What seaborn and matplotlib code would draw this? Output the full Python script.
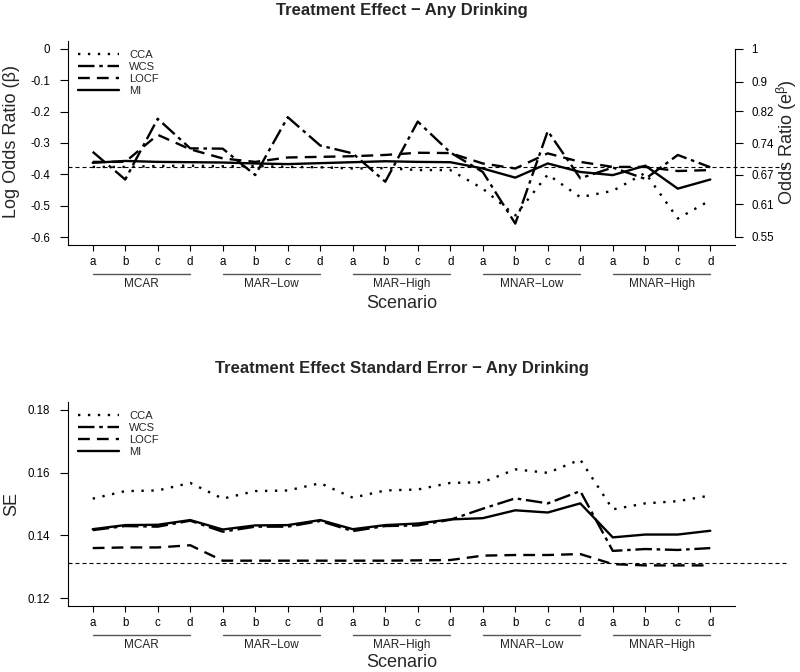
import numpy as np
import pandas as pd
import matplotlib
matplotlib.use('Agg')
import matplotlib.pyplot as plt
from matplotlib.lines import Line2D
import seaborn as sns

groups = ['MCAR', 'MAR−Low', 'MAR−High', 'MNAR−Low', 'MNAR−High']
subs = ['a', 'b', 'c', 'd']
methods = ['CCA', 'WCS', 'LOCF', 'MI']

# log odds ratio, 20 scenarios (5 groups x a-d)
lor_cca = [-0.376, -0.376, -0.373, -0.372, -0.374, -0.373, -0.376, -0.377, -0.381, -0.380,
           -0.386, -0.386, -0.445, -0.530, -0.400, -0.472, -0.452, -0.395, -0.540, -0.482]
lor_wcs = [-0.328, -0.416, -0.223, -0.317, -0.318, -0.402, -0.218, -0.308, -0.333, -0.423,
           -0.232, -0.330, -0.392, -0.556, -0.262, -0.412, -0.378, -0.414, -0.338, -0.377]
lor_locf = [-0.360, -0.360, -0.274, -0.320, -0.349, -0.360, -0.346, -0.344, -0.342, -0.338,
            -0.331, -0.332, -0.365, -0.381, -0.333, -0.360, -0.376, -0.376, -0.389, -0.386]
lor_mi = [-0.363, -0.357, -0.360, -0.361, -0.362, -0.365, -0.367, -0.364, -0.361, -0.358,
          -0.360, -0.361, -0.381, -0.410, -0.365, -0.392, -0.402, -0.372, -0.445, -0.416]
lor_true = -0.376

# standard errors
se_cca = [0.1517, 0.1541, 0.1543, 0.1567, 0.1517, 0.1541, 0.1543, 0.1566, 0.1520, 0.1543,
          0.1546, 0.1567, 0.1569, 0.1610, 0.1599, 0.1641, 0.1483, 0.1502, 0.1509, 0.1527]
se_wcs = [0.1417, 0.1430, 0.1428, 0.1447, 0.1412, 0.1428, 0.1428, 0.1446, 0.1414, 0.1430,
          0.1432, 0.1450, 0.1485, 0.1518, 0.1502, 0.1541, 0.1351, 0.1357, 0.1354, 0.1360]
se_locf = [0.1360, 0.1362, 0.1362, 0.1369, 0.1320, 0.1320, 0.1320, 0.1320, 0.1320, 0.1320,
           0.1321, 0.1322, 0.1336, 0.1338, 0.1338, 0.1341, 0.1309, 0.1305, 0.1305, 0.1305]
se_mi = [0.1420, 0.1433, 0.1434, 0.1449, 0.1419, 0.1432, 0.1433, 0.1449, 0.1420, 0.1433,
         0.1438, 0.1451, 0.1455, 0.1480, 0.1473, 0.1502, 0.1394, 0.1403, 0.1403, 0.1415]
se_true = 0.1313

lor_ticks = [0, -0.1, -0.2, -0.3, -0.4, -0.5, -0.6]
or_ticks = [1, 0.9, 0.82, 0.74, 0.67, 0.61, 0.55]
se_ticks = [0.12, 0.14, 0.16, 0.18]

sns.set_theme(style='ticks')
plt.rcParams['font.family'] = ['Liberation Sans', 'DejaVu Sans']
plt.rcParams['mathtext.fontset'] = 'custom'
plt.rcParams['mathtext.rm'] = 'Liberation Sans'
plt.rcParams['mathtext.it'] = 'Liberation Sans:italic'
plt.rcParams['axes.edgecolor'] = 'black'
plt.rcParams['xtick.color'] = 'black'
plt.rcParams['ytick.color'] = 'black'

pos = np.arange(1, 21)
dashes = {'CCA': (1, 3.2), 'WCS': (7, 2, 1.5, 2), 'LOCF': (5, 3), 'MI': ''}


def long_df(series):
    rows = []
    for m, vals in zip(methods, series):
        for p, v in zip(pos, vals):
            rows.append((m, p, v))
    return pd.DataFrame(rows, columns=['method', 'pos', 'val'])


def panel(ax, df, ref, ylim, yticks, ylabels, title, title_y, scen_y):
    sns.lineplot(data=df, x='pos', y='val', style='method', style_order=methods,
                 dashes=dashes, color='black', lw=1.7, estimator=None, ax=ax, legend=False)
    ax.plot([0.24, 22.4], [ref, ref], color='black', lw=0.8, ls=(0, (3.6, 2.7)), clip_on=False)
    ax.set_xlim(0.24, 20.76)
    ax.set_ylim(ylim)
    ax.set_xticks(pos)
    ax.set_xticklabels(subs * 5)
    ax.set_yticks(yticks)
    ax.set_yticklabels(ylabels)
    ax.set_xlabel('')
    ax.set_ylabel('')
    ax.spines['top'].set_visible(False)
    ax.spines['right'].set_visible(False)
    for s in ['left', 'bottom']:
        ax.spines[s].set_linewidth(0.8)
    ax.tick_params(axis='x', length=4, width=0.8, labelsize=8.3, pad=4)
    ax.tick_params(axis='y', length=6, width=0.8, labelsize=8.3, pad=7)
    tr = ax.get_xaxis_transform()
    for g, name in enumerate(groups):
        ax.plot([4 * g + 1, 4 * g + 4], [-29 / 204] * 2, transform=tr, clip_on=False,
                color='#555555', lw=1)
        ax.text(4 * g + 2.5, -39 / 204, name, transform=tr, ha='center', va='center',
                fontsize=8.5, color='#222222')
    ax.text(0.5, -scen_y / 204, 'Scenario', transform=ax.transAxes, ha='center', va='center',
            fontsize=13)
    ax.text(0.5, 1 + title_y / 204, title, transform=ax.transAxes, ha='center', va='center',
            fontsize=12, fontweight='bold')
    handles = [Line2D([], [], color='black', lw=1.7, dashes=dashes[m]) for m in methods[:3]]
    handles.append(Line2D([], [], color='black', lw=1.7))
    ax.legend(handles, methods, loc='upper left', bbox_to_anchor=(0.015, 0.958),
              frameon=False, fontsize=8, handlelength=3.7, handletextpad=0.9,
              labelspacing=0.18, borderpad=0, borderaxespad=0)


fig = plt.figure(figsize=(8, 6.72), dpi=100)
ax1 = fig.add_axes([0.085, 0.63542, 0.83375, 0.30357])
ax2 = fig.add_axes([0.085, 0.09821, 0.83375, 0.30357])

panel(ax1, long_df([lor_cca, lor_wcs, lor_locf, lor_mi]), lor_true, (-0.624, 0.024),
      lor_ticks, ['0' if t == 0 else f'{t:g}' for t in lor_ticks],
      'Treatment Effect − Any Drinking', 30, 59)
panel(ax2, long_df([se_cca, se_wcs, se_locf, se_mi]), se_true, (0.1176, 0.1824),
      se_ticks, [f'{t:.2f}' for t in se_ticks],
      'Treatment Effect Standard Error − Any Drinking', 34, 56)

# odds ratio scale on the right of the top panel
ax1r = ax1.twinx()
ax1r.set_ylim(ax1.get_ylim())
ax1r.set_yticks(np.log(or_ticks))
ax1r.set_yticklabels([f'{t:g}' for t in or_ticks])
for s in ['top', 'left', 'bottom']:
    ax1r.spines[s].set_visible(False)
ax1r.spines['right'].set_linewidth(0.8)
ax1r.spines['right'].set_bounds(np.log(0.55), 0)
ax1r.tick_params(axis='y', length=6, width=0.8, labelsize=8.3, pad=6)
ax1r.grid(False)

fig.text(12 / 800, 1 - 142 / 672, 'Log Odds Ratio (β)', rotation=90, ha='center', va='center',
         fontsize=13)
fig.text(787 / 800, 1 - 142 / 672, r'Odds Ratio (e$^{\mathregular{β}}$)', rotation=90,
         ha='center', va='center', fontsize=13)
fig.text(12 / 800, 1 - 504 / 672, 'SE', rotation=90, ha='center', va='center', fontsize=13)

fig.savefig('out.png', dpi=100)
